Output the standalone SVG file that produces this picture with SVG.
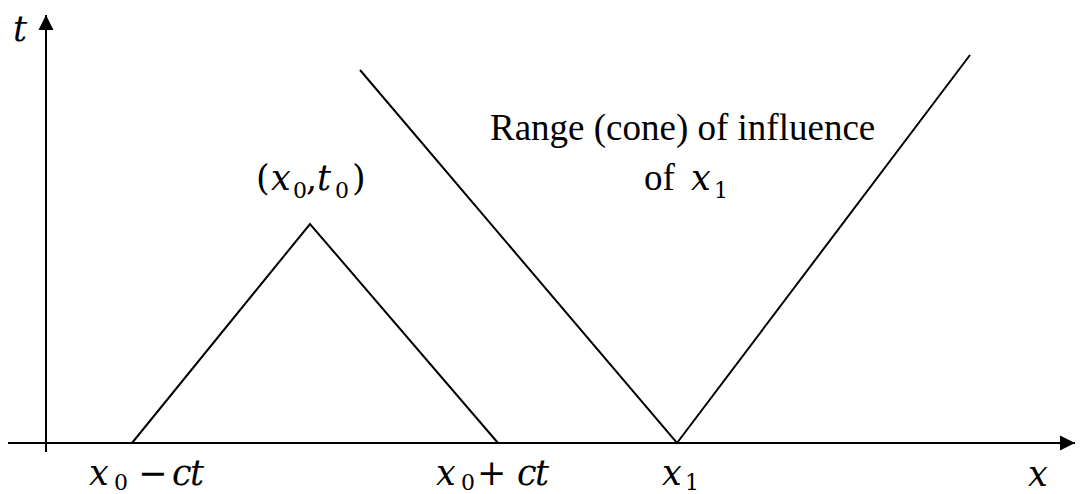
<svg xmlns="http://www.w3.org/2000/svg" width="1085" height="494" viewBox="0 0 1085 494">
<style>
.ln{stroke:#000;stroke-width:2;fill:none}
</style>
<defs>
<marker id="ah" markerWidth="16" markerHeight="16" refX="15" refY="8" orient="auto" markerUnits="userSpaceOnUse">
<path d="M0,0.5 L15,8 L0,15.5 Z" fill="#000"/>
</marker>
</defs>
<rect width="1085" height="494" fill="#fff"/>
<g id="axes" class="ln">
<line x1="46" y1="452" x2="46" y2="15" marker-end="url(#ah)"/>
<line x1="8" y1="443" x2="1075" y2="443" marker-end="url(#ah)"/>
</g>
<g id="connectors" class="ln">
<polyline points="132,443 310,224 498,443"/>
<polyline points="360,70 677,443 970,55"/>
</g>
<g id="labels" font-family="DejaVu Serif" fill="#000">
<g font-style="italic" font-size="35">
<text x="13" y="41">t</text>
<text x="1028" y="486">x</text>
</g>
<g id="lbl-x0-ct" font-size="35"><text font-style="italic" x="89" y="485">x</text><text font-size="22" x="114" y="490">0</text><text x="138" y="485">−</text><text font-style="italic" x="172" y="485">c</text><text font-style="italic" x="190" y="485">t</text></g>
<g id="lbl-x0+ct" font-size="35"><text font-style="italic" x="436" y="485">x</text><text font-size="22" x="461" y="490">0</text><text x="477" y="485">+</text><text font-style="italic" x="517" y="485">c</text><text font-style="italic" x="535" y="485">t</text></g>
<g id="lbl-x1" font-size="35"><text font-style="italic" x="662" y="485">x</text><text font-size="22" x="685" y="490">1</text></g>
<g id="lbl-x0t0" font-size="35"><text x="256" y="190">(</text><text font-style="italic" x="271" y="190">x</text><text font-size="22" x="293" y="198">0</text><text x="306" y="190">,</text><text font-style="italic" x="317" y="190">t</text><text font-size="22" x="335" y="198">0</text><text x="352" y="190">)</text></g>
<g id="lbl-range" font-size="35"><text font-family="Liberation Serif" font-size="37" x="490" y="140">Range (cone) of influence</text><text font-family="Liberation Serif" font-size="37" x="644" y="190">of</text><text font-style="italic" x="691" y="190">x</text><text font-size="22" x="714" y="198">1</text></g>
</g>
</svg>
